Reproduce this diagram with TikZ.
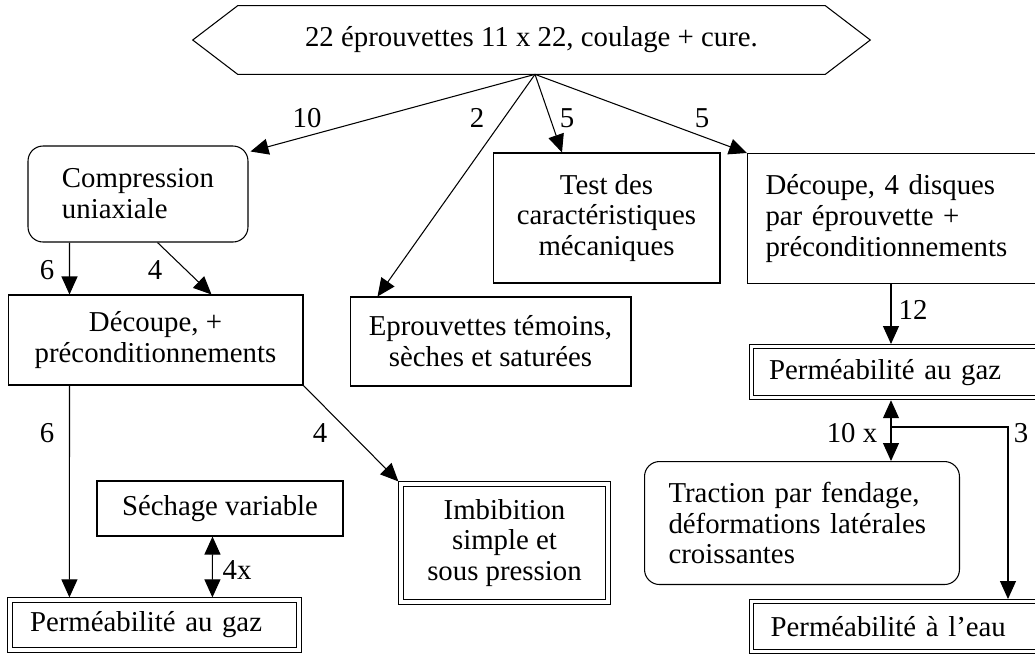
\documentclass[tikz,border=0pt]{standalone}
\usepackage{fontspec}
\setmainfont{Liberation Serif}
\usetikzlibrary{arrows.meta,calc}
\tikzset{
  box/.style={draw, line width=0.6pt, inner sep=0pt, align=center},
  rbox/.style={box, rounded corners=0.3cm},
  dbox/.style={box, line width=0.7pt, double, double distance=1.8pt},
  fl/.style={line width=0.6pt, -{Triangle[length=0.36cm,width=0.32cm]}},
  dfl/.style={line width=0.6pt, {Triangle[length=0.36cm,width=0.32cm]}-{Triangle[length=0.36cm,width=0.32cm]}}
}
\begin{document}
\begin{tikzpicture}[x=0.02cm, y=-0.02cm, every node/.style={font=\fontsize{16.4pt}{17.6pt}\selectfont}]
  \useasboundingbox (0,0) rectangle (1035,654);
  % lot de depart
  \node[minimum width=13.54cm, minimum height=1.36cm, inner sep=0pt] (lot) at (531.5,40) {22 éprouvettes 11 x 22, coulage + cure.};
  \draw[line width=0.6pt] (lot.west) -- ($(lot.north west)+(45,0)$) -- ($(lot.north east)+(-45,0)$) -- (lot.east)
    -- ($(lot.south east)+(-45,0)$) -- ($(lot.south west)+(45,0)$) -- cycle;
  \coordinate (src) at ($(lot.south)+(3.5,0)$);

  \node[rbox, minimum width=4.4cm, minimum height=1.92cm, align=left] (comp) at (138,194) {Compression\\uniaxiale};
  \node[box, minimum width=4.54cm, minimum height=2.6cm] (test) at (606.5,218) {Test des\\caractéristiques\\mécaniques};
  \node[box, anchor=north west, minimum width=6cm, minimum height=2.6cm, text width=5.28cm, inner xsep=0.36cm, align=left] (disq) at (747,153) {Découpe, 4 disques\\par éprouvette +\\préconditionnements};
  \node[box, minimum width=5.62cm, minimum height=1.78cm] (temoin) at (490.5,341.5) {Eprouvettes témoins,\\sèches et saturées};
  \node[box, minimum width=5.9cm, minimum height=1.8cm] (decoup) at (155.5,340) {Découpe, +\\préconditionnements};
  \node[dbox, anchor=north west, minimum width=6cm, minimum height=1.02cm, text width=5.3cm, inner xsep=0.34cm, align=left] (gazR) at (751,346) {Perméabilité au gaz};
  \node[box, minimum width=4.92cm, minimum height=1.1cm] (sech) at (220,508.5) {Séchage variable};
  \node[dbox, minimum width=4.14cm, minimum height=2.36cm] (imbib) at (504.5,543) {Imbibition\\simple et\\sous pression};
  \node[dbox, minimum width=5.78cm, minimum height=1.0cm, text width=4.98cm, inner xsep=0.4cm, align=left] (gazL) at (154.5,625) {Perméabilité au gaz};
  \node[rbox, anchor=north west, minimum height=2.46cm, text width=5.34cm, inner xsep=0.48cm, align=left] (trac) at (644,461) {Traction par fendage,\\déformations latérales\\croissantes};
  \node[dbox, anchor=north west, minimum width=6cm, minimum height=1.0cm, text width=5.3cm, inner xsep=0.38cm, align=left] (eau) at (751,601) {Perméabilité à l’eau};

  \draw[fl] (src) -- ($(comp.north east)+(2,6)$);
  \draw[fl] (src) -- ($(temoin.north west)+(28,0)$);
  \draw[fl] (src) -- ($(test.north)+(-44.5,0)$);
  \draw[fl] (src) -- (disq.north west);
  \draw[fl] ($(comp.south west)+(42,0)$) -- ($(decoup.north west)+(62,0)$);
  \draw[fl] ($(comp.south west)+(130,0)$) -- ($(decoup.north west)+(204,0)$);
  \draw[fl] ($(decoup.south west)+(62,0)$) -- ($(gazL.north west)+(60,-2)$);
  \draw[fl] (decoup.south east) -- ($(imbib.north west)+(-2,-2)$);
  \draw[dfl] ($(sech.south west)+(116,0)$) -- ($(gazL.north west)+(203,-2)$);
  \draw[fl] ($(disq.south west)+(144,0)$) -- ($(gazR.north west)+(140,-2)$);
  \draw[dfl] ($(gazR.south west)+(140,2)$) -- ($(trac.north west)+(247,0)$);
  \coordinate (br) at (891,427);
  \draw[fl] (br) -| ($(eau.north west)+(257,-2)$);

  \node at (307,118) {10};
  \node at (477,118) {2};
  \node at (567,118) {5};
  \node at (702,118) {5};
  \node at (47,270) {6};
  \node at (155,270) {4};
  \node at (47,433) {6};
  \node at (320,433) {4};
  \node at (237,570) {4x};
  \node at (913,310) {12};
  \node at (852,433) {10 x};
  \node at (1021,433) {3};
\end{tikzpicture}
\end{document}
